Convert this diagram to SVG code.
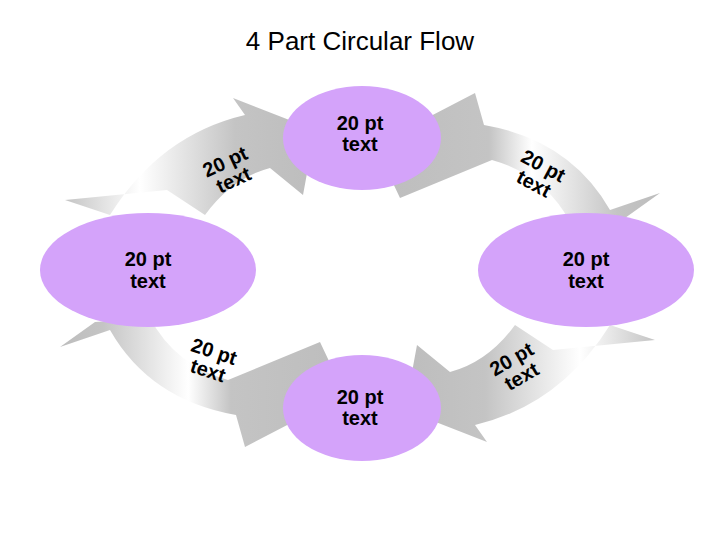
<svg xmlns="http://www.w3.org/2000/svg" width="720" height="540" viewBox="0 0 720 540">
<style>
.node{fill:#d4a3fa}
.t{font-family:"Liberation Sans",Arial,sans-serif;font-size:20px;font-weight:bold;fill:#000;text-anchor:middle}
.n{font-family:"Liberation Sans",Arial,sans-serif;font-size:20px;font-weight:bold;fill:#000;text-anchor:middle}
.arr{stroke:none}
</style>
<defs>
<linearGradient id="g1" x1="0" y1="0.5" x2="1" y2="0.5">
<stop offset="0" stop-color="#c4c4c4"/><stop offset="0.3" stop-color="#ffffff"/><stop offset="0.68" stop-color="#c4c4c4"/><stop offset="1" stop-color="#bdbdbd"/>
</linearGradient>
<linearGradient id="g2" x1="0" y1="0.5" x2="1" y2="0.5">
<stop offset="0" stop-color="#bdbdbd"/><stop offset="0.15" stop-color="#c4c4c4"/><stop offset="0.45" stop-color="#ffffff"/><stop offset="0.6" stop-color="#c4c4c4"/><stop offset="1" stop-color="#bdbdbd"/>
</linearGradient>
</defs>
<rect width="720" height="540" fill="#fff"/>
<text x="360" y="50" style="font-family:'Liberation Sans',Arial,sans-serif;font-size:26px;text-anchor:middle">4 Part Circular Flow</text>
<g id="connectors">
<path class="arr" fill="url(#g1)" d="M65,200 L167,190 L205,215 Q232,178 270,168 L303,195 L315,130 L233,98 L245,115 Q160,135 110,215 Z"/>
<path class="arr" fill="url(#g1)" transform="rotate(180 360 270)" d="M65,200 L167,190 L205,215 Q232,178 270,168 L303,195 L315,130 L233,98 L245,115 Q160,135 110,215 Z"/>
<path class="arr" fill="url(#g2)" d="M60,347 L95,322 L150,318 Q175,365 228,380 L320,342 L345,395 L245,447 L236,415 Q150,400 110,330 Z"/>
<path class="arr" fill="url(#g2)" transform="rotate(180 360 270)" d="M60,347 L95,322 L150,318 Q175,365 228,380 L320,342 L345,395 L245,447 L236,415 Q150,400 110,330 Z"/>
</g>
<text class="t" transform="translate(228,168) rotate(-25)"><tspan x="0" y="0">20 pt</tspan><tspan x="0" y="20">text</tspan></text>
<text class="t" transform="translate(540,172) rotate(28)"><tspan x="0" y="0">20 pt</tspan><tspan x="0" y="20">text</tspan></text>
<text class="t" transform="translate(212,358) rotate(18)"><tspan x="0" y="0">20 pt</tspan><tspan x="0" y="20">text</tspan></text>
<text class="t" transform="translate(515,365) rotate(-30)"><tspan x="0" y="0">20 pt</tspan><tspan x="0" y="20">text</tspan></text>
<g id="top"><ellipse class="node" cx="362" cy="138" rx="79" ry="52"/><text class="n" x="360" y="130">20 pt</text><text class="n" x="360" y="151">text</text></g>
<g id="left"><ellipse class="node" cx="148" cy="270" rx="108" ry="57"/><text class="n" x="148" y="266">20 pt</text><text class="n" x="148" y="288">text</text></g>
<g id="right"><ellipse class="node" cx="586" cy="270" rx="108" ry="57"/><text class="n" x="586" y="266">20 pt</text><text class="n" x="586" y="288">text</text></g>
<g id="bottom"><ellipse class="node" cx="362" cy="408" rx="79" ry="53"/><text class="n" x="360" y="404">20 pt</text><text class="n" x="360" y="425">text</text></g>
</svg>
